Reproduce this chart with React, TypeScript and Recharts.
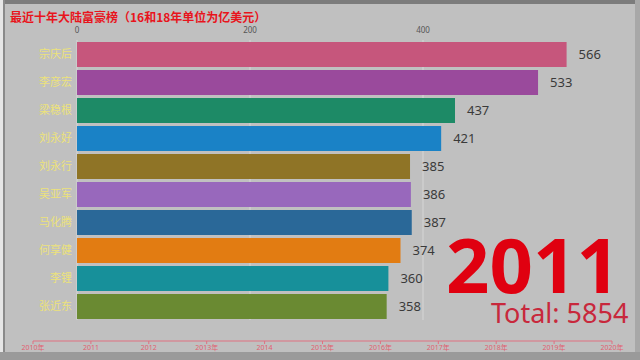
import React from 'react';
import { BarChart, Bar, XAxis, YAxis, CartesianGrid, Cell, LabelList, LineChart } from 'recharts';

// 2011 frame of the race
const names = ['宗庆后', '李彦宏', '梁稳根', '刘永好', '刘永行', '吴亚军', '马化腾', '何享健', '李锂', '张近东'];
const wealth = [566, 533, 437, 421, 385, 386, 387, 374, 360, 358];
const barColors = ['#c6567c', '#9a4a9c', '#1d8a66', '#1a82c6', '#8f7426', '#9868bc', '#2a6898', '#e27c12', '#17909a', '#6a8a32'];
const valueTicks = [0, 200, 400];

const years = [2010, 2011, 2012, 2013, 2014, 2015, 2016, 2017, 2018, 2019, 2020];
const yearLabels = ['2010年', '2011', '2012', '2013年', '2014', '2015年', '2016年', '2017年', '2018年', '2019年', '2020年'];

const currentYear = '2011';
const totalText = 'Total: 5854';
const title = '最近十年大陆富豪榜（16和18年单位为亿美元）';

const rows = names.map((name, i) => ({ name, value: wealth[i] }));
const timeline = years.map(y => ({ year: y }));

const App: React.FC = () => {
  return (
    <div style={{ position: 'absolute', left: 0, top: 0, width: 640, height: 360, background: '#c0c0c0', overflow: 'hidden', fontFamily: '"Noto Sans", "Noto Sans CJK SC", sans-serif' }}>
      {/* screenshot frame */}
      <div style={{ position: 'absolute', left: 0, top: 0, width: 640, height: 4, background: '#7c7c7c' }} />
      <div style={{ position: 'absolute', left: 0, top: 0, width: 3, height: 360, background: '#e6e6e6' }} />
      <div style={{ position: 'absolute', left: 3, top: 0, width: 2, height: 360, background: '#8a8a8a' }} />
      <div style={{ position: 'absolute', left: 635, top: 0, width: 5, height: 360, background: '#a8a8a8' }} />
      <div style={{ position: 'absolute', left: 0, top: 352, width: 640, height: 8, background: '#9a9a9a' }} />

      <div style={{ position: 'absolute', left: 10, top: 8, fontSize: 12, fontWeight: 'bold', color: '#e8141c', fontFamily: '"Noto Sans CJK SC", sans-serif', whiteSpace: 'nowrap' }}>
        {title}
      </div>

      <div style={{ position: 'absolute', left: 0, top: 0 }}>
        <BarChart width={640} height={360} data={rows} layout="vertical" margin={{ top: 24, right: 44, left: 0, bottom: 40 }} barSize={25}>
          <CartesianGrid horizontal={false} stroke="#d6d6d6" syncWithTicks />
          <XAxis type="number" orientation="top" domain={[0, 600]} ticks={valueTicks} height={16}
            axisLine={false} tickLine={false} tickSize={1} tickMargin={6} tick={{ fontSize: 8, fill: '#555' }} />
          <YAxis type="category" dataKey="name" width={77} axisLine={false} tickLine={false} tickSize={3} tickMargin={2}
            tick={{ fontSize: 11, fill: '#ece27a', fontFamily: '"Noto Sans CJK SC", sans-serif' }} />
          <Bar dataKey="value" isAnimationActive={false}>
            {rows.map((r, i) => <Cell key={r.name} fill={barColors[i]} />)}
            <LabelList dataKey="value" position="right" offset={12} fill="#3a3a3a" fontSize={13} />
          </Bar>
        </BarChart>
      </div>

      <div style={{ position: 'absolute', left: 0, top: 320 }}>
        <LineChart width={640} height={40} data={timeline} margin={{ top: 0, right: 28, left: 33, bottom: 0 }}>
          <XAxis dataKey="year" type="number" domain={[2010, 2020]} ticks={years} interval={0} height={19}
            tickFormatter={(v: number) => yearLabels[years.indexOf(v)]}
            stroke="#e07080" tickSize={3} tickMargin={1} tick={{ fontSize: 7, fill: '#e06070' }} />
        </LineChart>
      </div>

      <div style={{ position: 'absolute', left: 446, top: 230, fontSize: 76, fontWeight: 'bold', color: '#e00010', lineHeight: 0.9 }}>
        {currentYear}
      </div>
      <div style={{ position: 'absolute', left: 491, top: 299, fontSize: 27, color: '#c8283c', lineHeight: 1, whiteSpace: 'nowrap' }}>
        {totalText}
      </div>
    </div>
  );
};

export default App;
